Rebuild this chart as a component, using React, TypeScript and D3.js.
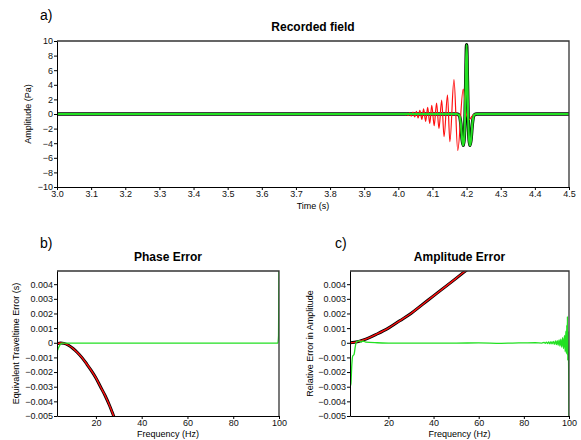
import React, { useRef, useEffect } from "react";
import * as d3 from "d3";

const FONT = "'Liberation Sans', Arial, Helvetica, sans-serif";

// a) recorded field: [time (s), amplitude (Pa)]
const sourcePulse: [number, number][] = [
  [3.0, 0], [4.17, 0], [4.178, -0.15], [4.183, -1.3], [4.187, -3.5], [4.19, -4.3],
  [4.1925, -3.6], [4.1955, -0.3], [4.1975, 4.5], [4.2, 9.5], [4.2025, 4.5],
  [4.2045, -0.3], [4.2075, -3.6], [4.21, -4.3], [4.213, -3.5], [4.217, -1.3],
  [4.222, -0.15], [4.23, 0], [4.5, 0],
];
const dispersedPulse: [number, number][] = [
  [3.0, 0], [4.0, 0], [4.006, 0.02], [4.011, -0.05], [4.015, 0.05], [4.02, -0.1],
  [4.024, 0.08], [4.029, -0.18], [4.033, 0.15], [4.038, -0.28], [4.043, 0.25],
  [4.048, -0.4], [4.053, 0.38], [4.058, -0.55], [4.063, 0.5], [4.069, -0.75],
  [4.074, 0.7], [4.08, -1.0], [4.086, 0.9], [4.092, -1.3], [4.098, 1.2],
  [4.105, -1.6], [4.112, 1.5], [4.119, -2.0], [4.127, 1.9], [4.134, -3.1],
  [4.144, 2.6], [4.151, -3.8], [4.163, 4.7], [4.174, -5.0], [4.19, 3.4],
  [4.199, 0], [4.208, -0.75], [4.216, -0.3], [4.226, 0], [4.5, 0],
];
const timeTicks = [3.0, 3.1, 3.2, 3.3, 3.4, 3.5, 3.6, 3.7, 3.8, 3.9, 4.0, 4.1, 4.2, 4.3, 4.4, 4.5];
const ampTicks = [-10, -8, -6, -4, -2, 0, 2, 4, 6, 8, 10];

// b) phase error: [frequency (Hz), traveltime error (s)]
const phaseTheory: [number, number][] = [
  [3, -0.00008], [4.6, -0.00002], [6, -0.00004], [8, -0.00017], [10, -0.00039],
  [12, -0.00068], [14, -0.00103], [16, -0.00145], [18, -0.0019], [20, -0.0024],
  [22, -0.003], [24, -0.0036], [26, -0.0043], [28, -0.0051], [29, -0.0055],
];
const phaseCorrected: [number, number][] = [
  [3, -0.0006], [3.5, -0.0004], [4.5, -0.0001], [5.5, -0.00003], [7, -0.00002],
  [30, -0.00002], [60, -0.00002], [99.5, -0.00002], [99.8, 0.0005], [100, 0.0052],
];

// c) amplitude error: [frequency (Hz), relative error]
const ampTheory: [number, number][] = [
  [3, 0], [5, 0.00003], [10, 0.00025], [15, 0.0006], [20, 0.001], [25, 0.0015],
  [30, 0.002], [35, 0.0026], [40, 0.0032], [45, 0.0038], [50, 0.0044],
  [55, 0.005], [57, 0.0052],
];
const ampCorrected: [number, number][] = [
  [3, -0.003], [3.4, -0.0028], [3.8, -0.0015], [4.2, -0.0009], [4.8, -0.0008],
  [5.3, -0.0003], [5.8, 0.00005], [6.5, 0.0001], [7.2, 0.00015], [8, 0.00005],
  [8.6, 0.00012], [10, 0.00005], [15, 0], [20, -0.00002], [30, -0.00003],
  [40, -0.00002], [50, -0.00002], [60, -0.00001], [70, -0.00004], [75, -0.00002],
  [80, -0.00001], [85, 0], [88, -0.00002], [89, 0.00003], [89.5, -0.00004],
  [90, 0.00005], [90.5, -0.00005], [91, 0.00006], [91.5, -0.00007], [92, 0.00008],
  [92.5, -0.00008], [93, 0.0001], [93.5, -0.0001], [94, 0.00012], [94.4, -0.00013],
  [94.8, 0.00015], [95.2, -0.00017], [95.6, 0.0002], [96, -0.00022], [96.4, 0.00025],
  [96.8, -0.0003], [97.2, 0.00035], [97.6, -0.0004], [98, 0.0005], [98.3, -0.0006],
  [98.6, 0.0008], [98.8, -0.0007], [99.0, 0.0012], [99.15, -0.0008], [99.3, 0.0018],
  [99.45, -0.0012], [99.6, 0.0008], [100, -0.0052],
];
const freqTicks = [20, 40, 60, 80, 100];
const errTicks = [-0.005, -0.004, -0.003, -0.002, -0.001, 0, 0.001, 0.002, 0.003, 0.004];

const BLACK = "#000";
const RED = "#ff1010";
const GREEN = "#22e022";

const errFormat = (d: number) => (Math.abs(d) < 1e-9 ? "0" : d3.format(".3f")(d));

const drawPanel = (svg: any, p: any) => {
  const x = d3.scaleLinear().domain(p.xDomain).range([p.left, p.right]);
  const y = d3.scaleLinear().domain(p.yDomain).range([p.bottom, p.top]);

  svg
    .append("clipPath")
    .attr("id", "clip-" + p.id)
    .append("rect")
    .attr("x", p.left)
    .attr("y", p.top)
    .attr("width", p.right - p.left)
    .attr("height", p.bottom - p.top);

  const g = svg.append("g").attr("clip-path", `url(#clip-${p.id})`);
  const line = d3
    .line<[number, number]>()
    .x((d) => x(d[0]))
    .y((d) => y(d[1]))
    .curve(d3.curveMonotoneX);

  p.series.forEach((s: any) => {
    g.append("path")
      .attr("d", line(s.data))
      .attr("fill", "none")
      .attr("stroke", s.color)
      .attr("stroke-width", s.width)
      .attr("stroke-linejoin", "round");
  });

  // frame (top + right)
  svg
    .append("path")
    .attr("d", `M${p.left},${p.top}H${p.right}V${p.bottom}`)
    .attr("fill", "none")
    .attr("stroke", "#333")
    .attr("stroke-width", 1.3);

  const xAxis = svg
    .append("g")
    .attr("transform", `translate(0,${p.bottom})`)
    .call(
      d3.axisBottom(x).tickValues(p.xTicks).tickSize(3).tickSizeOuter(0).tickPadding(1).tickFormat(p.xFormat)
    );
  const yAxis = svg
    .append("g")
    .attr("transform", `translate(${p.left},0)`)
    .call(
      d3.axisLeft(y).tickValues(p.yTicks).tickSize(3).tickSizeOuter(0).tickPadding(1).tickFormat(p.yFormat)
    );
  [xAxis, yAxis].forEach((a) => {
    a.attr("font-size", 9).attr("font-family", FONT);
    a.selectAll("text").attr("fill", "#111");
  });

  const text = (tx: number, ty: number, str: string, size: number, weight = "normal", rotate = false, anchor = "middle") =>
    svg
      .append("text")
      .attr("x", rotate ? 0 : tx)
      .attr("y", rotate ? 0 : ty)
      .attr("transform", rotate ? `translate(${tx},${ty}) rotate(-90)` : null)
      .attr("text-anchor", anchor)
      .attr("font-family", FONT)
      .attr("font-size", size)
      .attr("font-weight", weight)
      .attr("fill", "#000")
      .text(str);

  const cx = (p.left + p.right) / 2;
  text(cx, p.titleY, p.title, 12, "bold");
  text(cx, p.xLabelY, p.xLabel, 9);
  text(p.yLabelX, (p.top + p.bottom) / 2, p.yLabel, 9, "normal", true);
  text(p.tagX, p.tagY, p.tag, 14, "normal", false, "start");
};

const App = () => {
  const ref = useRef<SVGSVGElement>(null);

  useEffect(() => {
    const svg = d3.select(ref.current);
    svg.selectAll("*").remove();

    drawPanel(svg, {
      id: "a", left: 57, right: 569, top: 41, bottom: 187,
      xDomain: [3.0, 4.5], yDomain: [-10, 10],
      xTicks: timeTicks, yTicks: ampTicks,
      xFormat: d3.format(".1f"), yFormat: d3.format("d"),
      series: [
        { data: sourcePulse, color: BLACK, width: 3.4 },
        { data: dispersedPulse, color: RED, width: 1.2 },
        { data: sourcePulse, color: GREEN, width: 2.2 },
      ],
      title: "Recorded field", titleY: 31,
      xLabel: "Time (s)", xLabelY: 208.5,
      yLabel: "Amplitude (Pa)", yLabelX: 30.5,
      tag: "a)", tagX: 40, tagY: 19.5,
    });

    drawPanel(svg, {
      id: "b", left: 57, right: 279, top: 271, bottom: 416,
      xDomain: [3, 100], yDomain: [-0.005, 0.0049],
      xTicks: freqTicks, yTicks: errTicks,
      xFormat: d3.format("d"), yFormat: errFormat,
      series: [
        { data: phaseTheory, color: BLACK, width: 3 },
        { data: phaseTheory, color: RED, width: 1.4 },
        { data: phaseCorrected, color: GREEN, width: 1.3 },
      ],
      title: "Phase Error", titleY: 261,
      xLabel: "Frequency (Hz)", xLabelY: 436.5,
      yLabel: "Equivalent Traveltime Error (s)", yLabelX: 18.5,
      tag: "b)", tagX: 40, tagY: 248,
    });

    drawPanel(svg, {
      id: "c", left: 350, right: 569, top: 271, bottom: 416,
      xDomain: [3, 100], yDomain: [-0.005, 0.0049],
      xTicks: freqTicks, yTicks: errTicks,
      xFormat: d3.format("d"), yFormat: errFormat,
      series: [
        { data: ampTheory, color: BLACK, width: 3 },
        { data: ampTheory, color: RED, width: 1.4 },
        { data: ampCorrected, color: GREEN, width: 1.3 },
      ],
      title: "Amplitude Error", titleY: 261,
      xLabel: "Frequency (Hz)", xLabelY: 436.5,
      yLabel: "Relative Error in Amplitude", yLabelX: 312.5,
      tag: "c)", tagX: 335, tagY: 248,
    });
  }, []);

  return (
    <svg
      ref={ref}
      width={581}
      height={440}
      style={{ position: "absolute", left: 0, top: 0, background: "#fff" }}
    />
  );
};

export default App;
